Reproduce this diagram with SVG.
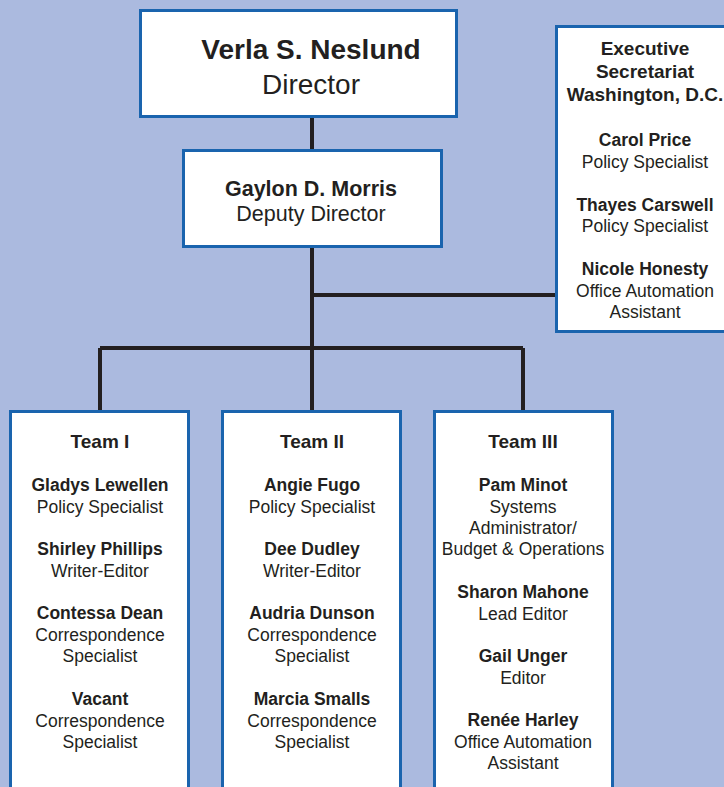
<svg xmlns="http://www.w3.org/2000/svg" width="724" height="787" viewBox="0 0 724 787">
<style>
.box{fill:#fff;stroke:#1a64ae;stroke-width:3}
.ln{stroke:#231f20;stroke-width:4;fill:none}
text{font-family:"Liberation Sans",Arial,sans-serif;fill:#231f20;text-anchor:middle;font-size:17.5px}
.b{font-weight:bold}
.h{font-weight:bold;font-size:19px}
</style>
<rect width="724" height="787" fill="#abbadf"/>
<g id="connectors">
<path class="ln" d="M312 117V149M312 247V348M312 295H555M100 348H523M100 348V410M312 348V410M523 348V410"/>
</g>
<g id="director">
<rect class="box" x="140.5" y="10.5" width="316" height="106"/>
<text x="311" y="59" class="b" style="font-size:28px">Verla S. Neslund</text>
<text x="311" y="94" style="font-size:28px">Director</text>
</g>
<g id="deputy">
<rect class="box" x="183.5" y="150.5" width="258" height="96"/>
<text x="311" y="195.5" class="b" style="font-size:21.5px">Gaylon D. Morris</text>
<text x="311" y="221" style="font-size:21.5px">Deputy Director</text>
</g>
<g id="exec">
<rect class="box" x="556.5" y="26.5" width="180" height="305"/>
<text x="645" y="55" class="h">Executive</text>
<text x="645" y="77.5" class="h">Secretariat</text>
<text x="645" y="100.5" class="h">Washington, D.C.</text>
<text x="645" y="146" class="b">Carol Price</text>
<text x="645" y="167.5">Policy Specialist</text>
<text x="645" y="210.5" class="b">Thayes Carswell</text>
<text x="645" y="232">Policy Specialist</text>
<text x="645" y="274.5" class="b">Nicole Honesty</text>
<text x="645" y="296.5">Office Automation</text>
<text x="645" y="317.5">Assistant</text>
</g>
<g id="team1">
<rect class="box" x="10.5" y="411.5" width="178" height="400"/>
<text x="100" y="448" class="h">Team I</text>
<text x="100" y="491" class="b">Gladys Lewellen</text>
<text x="100" y="512.5">Policy Specialist</text>
<text x="100" y="555" class="b">Shirley Phillips</text>
<text x="100" y="577">Writer-Editor</text>
<text x="100" y="619" class="b">Contessa Dean</text>
<text x="100" y="641">Correspondence</text>
<text x="100" y="662">Specialist</text>
<text x="100" y="705" class="b">Vacant</text>
<text x="100" y="726.5">Correspondence</text>
<text x="100" y="748">Specialist</text>
</g>
<g id="team2">
<rect class="box" x="222.5" y="411.5" width="178" height="400"/>
<text x="312" y="448" class="h">Team II</text>
<text x="312" y="491" class="b">Angie Fugo</text>
<text x="312" y="512.5">Policy Specialist</text>
<text x="312" y="555" class="b">Dee Dudley</text>
<text x="312" y="577">Writer-Editor</text>
<text x="312" y="619" class="b">Audria Dunson</text>
<text x="312" y="641">Correspondence</text>
<text x="312" y="662">Specialist</text>
<text x="312" y="705" class="b">Marcia Smalls</text>
<text x="312" y="726.5">Correspondence</text>
<text x="312" y="748">Specialist</text>
</g>
<g id="team3">
<rect class="box" x="434.5" y="411.5" width="178" height="400"/>
<text x="523" y="448" class="h">Team III</text>
<text x="523" y="491" class="b">Pam Minot</text>
<text x="523" y="512.5">Systems</text>
<text x="523" y="533.5">Administrator/</text>
<text x="523" y="555">Budget &amp; Operations</text>
<text x="523" y="598" class="b">Sharon Mahone</text>
<text x="523" y="619.5">Lead Editor</text>
<text x="523" y="662" class="b">Gail Unger</text>
<text x="523" y="684">Editor</text>
<text x="523" y="726" class="b">Renée Harley</text>
<text x="523" y="748">Office Automation</text>
<text x="523" y="769">Assistant</text>
</g>
</svg>
